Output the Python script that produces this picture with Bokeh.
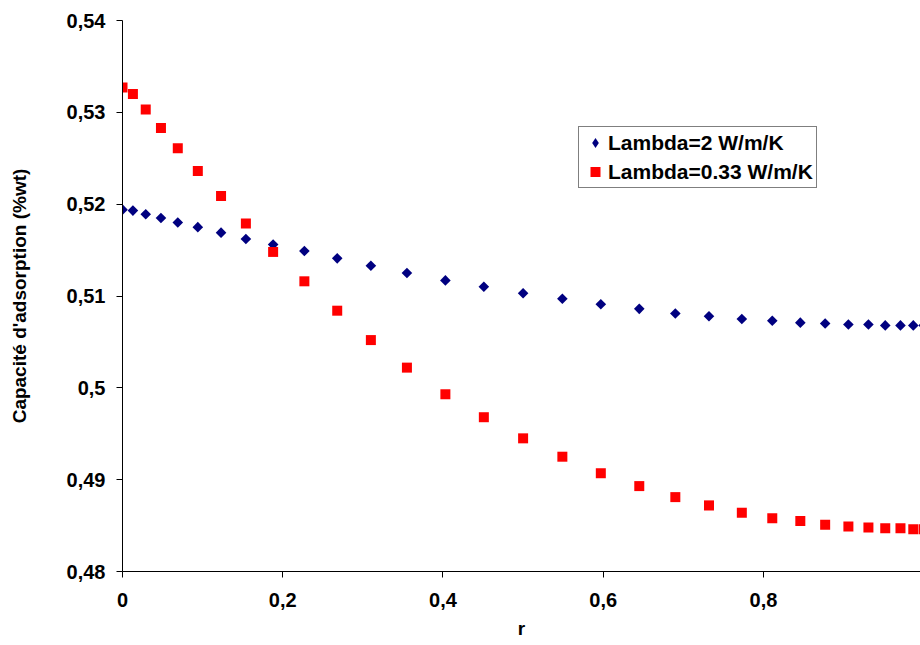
import numpy as np
from bokeh.plotting import figure
from bokeh.models import Range1d, FixedTicker, Legend, LegendItem
from bokeh.embed import file_html
from bokeh.resources import INLINE

r_values = [0.0, 0.013, 0.029, 0.048, 0.069, 0.094, 0.123, 0.154, 0.188, 0.227,
            0.268, 0.310, 0.355, 0.403, 0.451, 0.500, 0.549, 0.597, 0.645, 0.690,
            0.732, 0.773, 0.811, 0.846, 0.877, 0.906, 0.931, 0.952, 0.971, 0.987, 1.0]

lambda_2 = [0.5194, 0.5193, 0.5189, 0.5185, 0.5180, 0.5175, 0.5169, 0.5162, 0.5156, 0.5149,
            0.5141, 0.5133, 0.5125, 0.5117, 0.5110, 0.5103, 0.5097, 0.5091, 0.5086, 0.5081,
            0.5078, 0.5075, 0.5073, 0.5071, 0.5070, 0.5069, 0.5069, 0.5068, 0.5068, 0.5068, 0.5068]

lambda_033 = [0.5327, 0.5320, 0.5303, 0.5283, 0.5261, 0.5236, 0.5209, 0.5179, 0.5148, 0.5116,
              0.5084, 0.5052, 0.5022, 0.4993, 0.4968, 0.4945, 0.4925, 0.4907, 0.4893, 0.4881,
              0.4872, 0.4864, 0.4858, 0.4855, 0.4851, 0.4849, 0.4848, 0.4847, 0.4847, 0.4846, 0.4846]

x_ticks = [0, 0.2, 0.4, 0.6, 0.8, 1.0]
x_tick_labels = ["0", "0,2", "0,4", "0,6", "0,8", "1"]
y_ticks = [0.48, 0.49, 0.50, 0.51, 0.52, 0.53, 0.54]
y_tick_labels = ["0,48", "0,49", "0,5", "0,51", "0,52", "0,53", "0,54"]

series_names = ["Lambda=2 W/m/K", "Lambda=0.33 W/m/K"]

FONT = "Liberation Sans"
NAVY = "#000080"
RED = "#FF0000"

p = figure(width=920, height=645, output_backend="svg", toolbar_location=None,
           x_range=Range1d(0, 0.996), y_range=Range1d(0.48, 0.54),
           min_border_left=122, min_border_top=20, min_border_bottom=74, min_border_right=0)
p.outline_line_color = None
p.grid.visible = False

r1 = p.scatter(r_values, lambda_2, marker="square", size=7.5, angle=np.pi / 4,
               fill_color=NAVY, line_color=None)
r2 = p.scatter(r_values, lambda_033, marker="square", size=10,
               fill_color=RED, line_color=None)
# zero-size diamond glyph: only used to give the legend a diamond swatch
r1_leg = p.scatter(r_values, lambda_2, marker="diamond", size=0,
                   fill_color=NAVY, line_color=None)

for ax in (p.xaxis[0], p.yaxis[0]):
    ax.axis_line_color = "black"
    ax.axis_line_width = 1
    ax.major_tick_line_color = "black"
    ax.major_tick_out = 6
    ax.major_tick_in = 0
    ax.minor_tick_line_color = None
    ax.major_label_text_font = FONT
    ax.major_label_text_font_style = "bold"
    ax.major_label_text_font_size = "20px"
    ax.major_label_text_color = "black"
    ax.axis_label_text_font = FONT
    ax.axis_label_text_font_style = "bold"
    ax.axis_label_text_font_size = "19px"
    ax.axis_label_text_color = "black"

p.xaxis[0].ticker = FixedTicker(ticks=x_ticks)
p.xaxis[0].major_label_overrides = dict(zip(x_ticks, x_tick_labels))
p.yaxis[0].ticker = FixedTicker(ticks=y_ticks)
p.yaxis[0].major_label_overrides = dict(zip(y_ticks, y_tick_labels))
p.xaxis[0].major_label_standoff = 15
p.yaxis[0].major_label_standoff = 11
p.xaxis[0].axis_label = "r"
p.xaxis[0].axis_label_standoff = 8
p.yaxis[0].axis_label = "Capacité d'adsorption (%wt)"
p.yaxis[0].axis_label_standoff = 34

legend = Legend(items=[LegendItem(label=series_names[0], renderers=[r1_leg]),
                       LegendItem(label=series_names[1], renderers=[r2])],
                location=(456, 383))
legend.label_text_font = FONT
legend.label_text_font_style = "bold"
legend.label_text_font_size = "21px"
legend.label_text_color = "black"
legend.glyph_width = 26
legend.glyph_height = 25
legend.label_height = 25
legend.label_standoff = 0
legend.padding = 3
legend.spacing = 4
legend.margin = 0
legend.border_line_color = "black"
legend.border_line_width = 1
legend.background_fill_color = "white"
legend.background_fill_alpha = 1
p.add_layout(legend, "center")

open("out.html", "w").write(file_html(p, INLINE))
